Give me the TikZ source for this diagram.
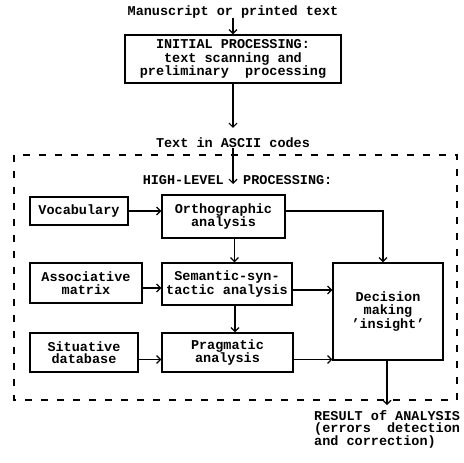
\documentclass[tikz,border=0pt]{standalone}
\usepackage{fontspec}
\setmainfont{Liberation Mono}
\usetikzlibrary{arrows.meta}
\begin{document}
\begin{tikzpicture}[x=1pt,y=-1pt,
  font=\fontsize{13.5}{12.5}\selectfont\bfseries,
  every node/.style={inner sep=0pt},
  blk/.style={draw,line width=1.4pt,align=center},
  lbl/.style={align=center},
  conn/.style={line width=1.1pt,-{Straight Barb[length=4pt,width=8pt,line width=1.1pt]}},
  heavy/.style={conn,line width=1.8pt}]
\useasboundingbox (0,0) rectangle (464,463);

% outer dashed frame of the high-level stage
\draw[line width=1.4pt,dash pattern=on 7pt off 9pt] (14,155) rectangle (457,400);

% input and first stage
\node[lbl] (src) at (233,12) {Manuscript or printed text};
\node[blk,minimum width=216pt,minimum height=48pt,font=\fontsize{13.5}{13.5}\selectfont\bfseries] (init) at (233,59)
  {INITIAL PROCESSING:\\text scanning and\\preliminary\ \ processing};
\node[lbl] (ascii) at (233,143) {Text in ASCII codes};

% stage heading, the incoming arrow ends between its two words
\node[anchor=east] (hlA) at (224,180) {HIGH-LEVEL};
\node[anchor=west] (hlB) at (243,180) {PROCESSING:};
\coordinate (hv) at (233,184);

% knowledge sources
\node[blk,minimum width=98pt,minimum height=28pt] (voc) at (79,211) {Vocabulary};
\node[blk,minimum width=112pt,minimum height=40pt] (assoc) at (86,283) {Associative\\matrix};
\node[blk,minimum width=108pt,minimum height=39pt] (situ) at (84,352.5) {Situative\\database};

% analysis chain
\node[blk,minimum width=123pt,minimum height=43pt] (ortho) at (223.5,216.5) {Orthographic\\analysis};
\node[blk,minimum width=130pt,minimum height=42pt] (sem) at (227,284) {Semantic-syn-\\tactic analysis};
\node[blk,minimum width=131pt,minimum height=39pt] (prag) at (227.5,352.5) {Pragmatic\\analysis};

% decision block
\node[blk,minimum width=110pt,minimum height=97pt] (dec) at (388,311.5) {Decision\\making\\'insight'};

% output
\node[align=left,anchor=north west,font=\fontsize{13.5}{12}\selectfont\bfseries] (res) at (314,410)
  {RESULT of ANALYSIS\\(errors\ \ detection\\and correction)};

% connectors
\draw[conn] (src.south) -- (init.north);
\draw[conn,shorten >=10pt] (init.south) -- (ascii.north);
\draw[conn] (ascii.south) -- (hv);

\draw[conn] (voc.east) -- (voc.east -| ortho.west);
\draw[conn] ([yshift=-5pt]assoc.east) -- ([yshift=-5pt]assoc.east -| sem.west);
\draw[conn] ([yshift=-7pt]situ.east) -- ([yshift=-7pt]situ.east -| prag.west);

\draw[conn] ([xshift=11pt]ortho.south) -- ([xshift=11pt]ortho.south |- sem.north);
\draw[conn] ([xshift=8pt]sem.south) -- ([xshift=8pt]sem.south |- prag.north);

\coordinate (ocorner) at ([xshift=-5pt]dec.north |- voc.east);
\draw[conn] (ortho.east |- voc.east) -- (ocorner) -- ([xshift=-5pt]dec.north);
\draw[conn] ([yshift=-6pt]sem.east) -- ([yshift=-6pt]sem.east -| dec.west);
\draw[heavy] ([yshift=-7pt]prag.east) -- ([yshift=-7pt]prag.east -| dec.west);

\coordinate (rtip) at ([xshift=-1pt]dec.south |- 0,405);
\draw[conn] ([xshift=-1pt]dec.south) -- (rtip);
\end{tikzpicture}
\end{document}
